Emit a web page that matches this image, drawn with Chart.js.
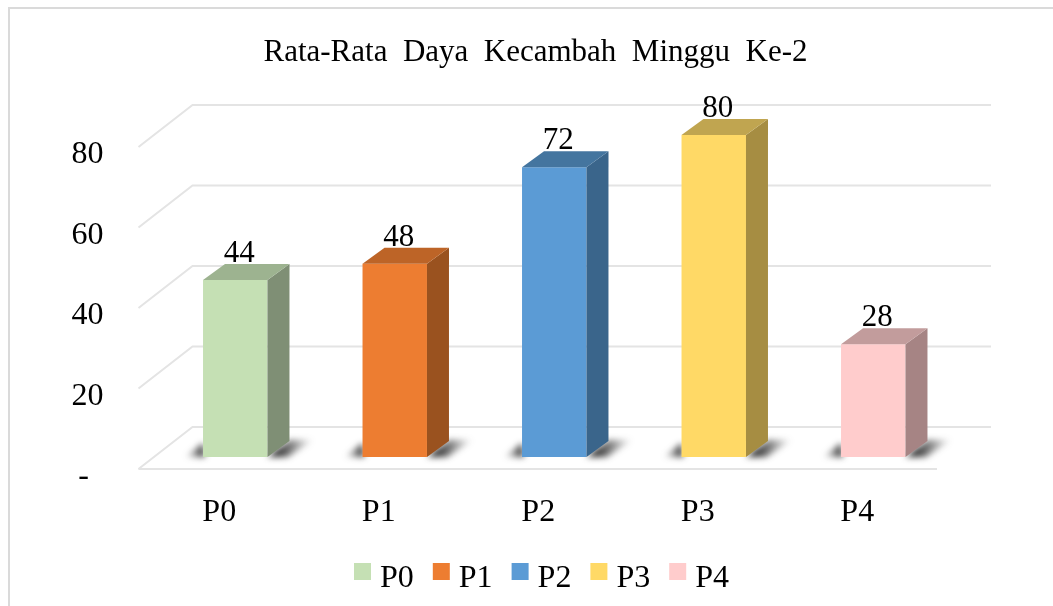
<!DOCTYPE html>
<html lang="id">
  <head>
    <meta charset="UTF-8" />
    <title>Rata-Rata Daya Kecambah Minggu Ke-2</title>
    <script src="https://cdn.jsdelivr.net/npm/chart.js"></script>
    <style>
      body { margin: 0; background: #fff; }
      canvas { display: block; }
    </style>
  </head>
  <body>
    <canvas id="chart" width="1053" height="606"></canvas>
    <script>
      const titleText = "Rata-Rata  Daya  Kecambah  Minggu  Ke-2";
      const categories = ["P0", "P1", "P2", "P3", "P4"];
      const values = [44, 48, 72, 80, 28];
      const gridValues = [0, 20, 40, 60, 80];

      const frontColors = ["#C5E0B4", "#ED7D31", "#5B9BD5", "#FFD966", "#FFCCCC"];
      const sideColors = ["#7F8F75", "#9A521F", "#3A658B", "#A68D42", "#A68484"];
      const topColors = ["#9DB390", "#BD6427", "#44759F", "#C0A550", "#C29C9C"];

      const serif = '"Liberation Serif", "Times New Roman", serif';
      const depthX = 22;
      const depthY = 16;

      // 3D look: back wall and floor behind the bars, side and top faces over them
      const depthPlugin = {
        id: "depth",
        beforeDatasetsDraw(chart) {
          const { ctx, chartArea, scales } = chart;
          const { left, right } = chartArea;
          const bars = chart.getDatasetMeta(0).data;
          ctx.save();
          // frame of the picture
          ctx.strokeStyle = "#DADADA";
          ctx.lineWidth = 2;
          ctx.beginPath();
          ctx.moveTo(9, 606);
          ctx.lineTo(9, 8);
          ctx.lineTo(1053, 8);
          ctx.stroke();

          ctx.strokeStyle = "#E4E4E4";
          ctx.lineWidth = 2;
          gridValues.forEach((v) => {
            const y = scales.y.getPixelForValue(v);
            ctx.beginPath();
            ctx.moveTo(left - 17, y + 12);
            ctx.lineTo(left + 37, y - 30);
            ctx.lineTo(right + 38, y - 30);
            ctx.stroke();
          });
          const floor = scales.y.getPixelForValue(0) + 12;
          ctx.beginPath();
          ctx.moveTo(left - 17, floor);
          ctx.lineTo(right - 16, floor);
          ctx.stroke();

          // soft shadows on the floor
          ctx.filter = "blur(3px)";
          bars.forEach((bar) => {
            const l = bar.x - bar.width / 2;
            const r = bar.x + bar.width / 2;
            const b = bar.base;
            let g = ctx.createLinearGradient(r + 10, 0, r + 46, 0);
            g.addColorStop(0, "rgba(30,30,30,0.95)");
            g.addColorStop(1, "rgba(60,60,60,0)");
            ctx.fillStyle = g;
            ctx.beginPath();
            ctx.moveTo(r, b);
            ctx.lineTo(r + 22, b - 17);
            ctx.lineTo(r + 46, b - 17);
            ctx.lineTo(r + 20, b);
            ctx.closePath();
            ctx.fill();
            g = ctx.createLinearGradient(l - 18, 0, l, 0);
            g.addColorStop(0, "rgba(60,60,60,0)");
            g.addColorStop(1, "rgba(30,30,30,0.9)");
            ctx.fillStyle = g;
            ctx.beginPath();
            ctx.moveTo(l - 18, b);
            ctx.lineTo(l, b - 14);
            ctx.lineTo(l + 2, b);
            ctx.closePath();
            ctx.fill();
          });
          ctx.restore();
        },
        afterDatasetsDraw(chart) {
          const { ctx } = chart;
          const bars = chart.getDatasetMeta(0).data;
          ctx.save();
          bars.forEach((bar, i) => {
            const l = bar.x - bar.width / 2;
            const r = bar.x + bar.width / 2;
            ctx.fillStyle = sideColors[i];
            ctx.beginPath();
            ctx.moveTo(r, bar.y);
            ctx.lineTo(r + depthX, bar.y - depthY);
            ctx.lineTo(r + depthX, bar.base - depthY);
            ctx.lineTo(r, bar.base);
            ctx.closePath();
            ctx.fill();

            ctx.fillStyle = topColors[i];
            ctx.beginPath();
            ctx.moveTo(l, bar.y);
            ctx.lineTo(l + depthX, bar.y - depthY);
            ctx.lineTo(r + depthX, bar.y - depthY);
            ctx.lineTo(r, bar.y);
            ctx.closePath();
            ctx.fill();

            ctx.fillStyle = "#000";
            ctx.font = "31px " + serif;
            ctx.textAlign = "center";
            ctx.textBaseline = "alphabetic";
            ctx.fillText(String(values[i]), bar.x + 4, bar.y - 18);
          });

          // legend, the gaps of the built-in one are too wide for this picture
          ctx.font = "32px " + serif;
          ctx.textAlign = "left";
          categories.forEach((c, i) => {
            const x = 354 + i * 78.8;
            ctx.fillStyle = frontColors[i];
            ctx.fillRect(x, 563, 17, 17);
            ctx.fillStyle = "#000";
            ctx.fillText(c, x + 26, 587);
          });
          ctx.restore();
        },
      };

      new Chart(document.getElementById("chart"), {
        type: "bar",
        data: {
          labels: categories,
          datasets: [
            {
              data: values,
              backgroundColor: frontColors,
              barPercentage: 1,
              categoryPercentage: 0.404,
            },
          ],
        },
        options: {
          responsive: false,
          animation: false,
          layout: { padding: { left: 18 } },
          scales: {
            x: {
              grid: { display: false },
              border: { display: false },
              ticks: {
                color: "#000",
                font: { family: serif, size: 32 },
                labelOffset: -16,
                padding: 8,
                maxRotation: 0,
              },
              afterFit(scale) {
                scale.height = 129;
              },
            },
            // scale of the bars, its labels are drawn by the axis below
            y: {
              position: "right",
              min: -4.97,
              max: 87.45,
              grid: { display: false },
              border: { display: false },
              ticks: { display: false },
              afterFit(scale) {
                scale.width = 100;
              },
            },
            // tick labels sit on the front edge of the floor, so lower than the bars
            yLabels: {
              position: "left",
              min: 0,
              max: 92.42,
              grid: { display: false },
              border: { display: false },
              ticks: {
                stepSize: 20,
                includeBounds: false,
                crossAlign: "center",
                padding: 44,
                color: "#000",
                font: { family: serif, size: 32 },
                callback: (v) => (v === 0 ? "- " : String(v)),
              },
              afterFit(scale) {
                scale.width = 137.5;
              },
            },
          },
          plugins: {
            title: {
              display: true,
              text: titleText,
              color: "#000",
              font: { family: serif, size: 31, weight: "normal" },
              padding: { top: 34, bottom: 33.8 },
            },
            legend: { display: false },
            tooltip: { enabled: false },
          },
        },
        plugins: [depthPlugin],
      });
    </script>
  </body>
</html>
